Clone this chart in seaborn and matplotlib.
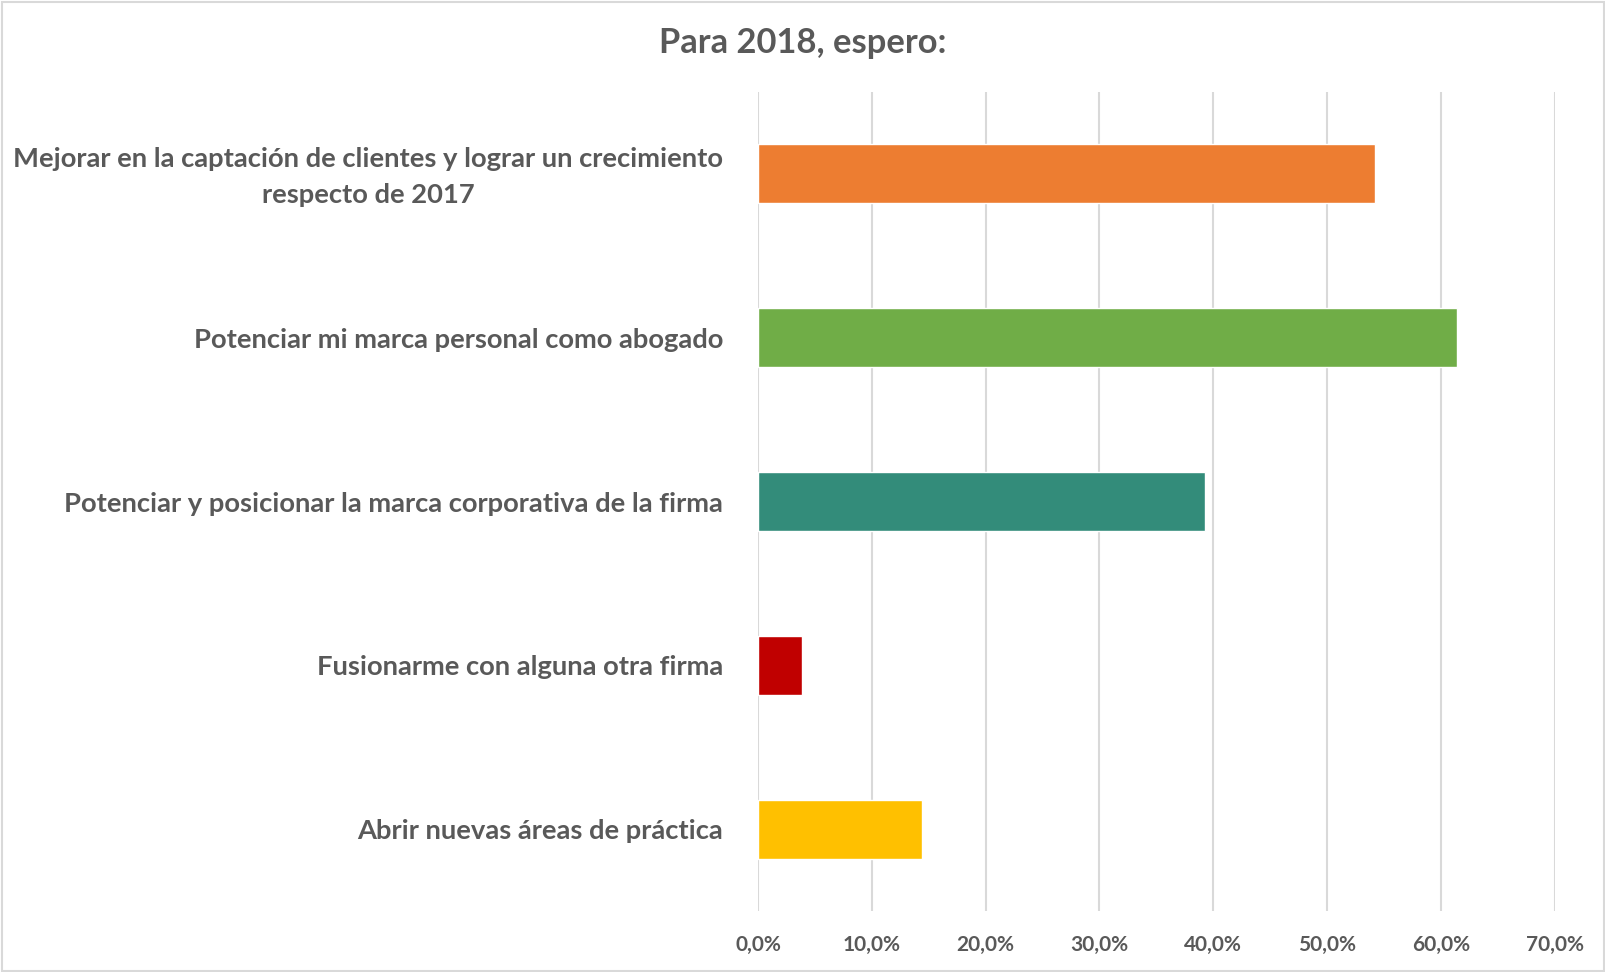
import matplotlib
matplotlib.use("Agg")
import matplotlib.pyplot as plt
import matplotlib.transforms as mtransforms
import seaborn as sns
import pandas as pd
from matplotlib.ticker import FuncFormatter

categories = [
    "Mejorar en la captación de clientes y lograr un crecimiento\nrespecto de 2017",
    "Potenciar mi marca personal como abogado",
    "Potenciar y posicionar la marca corporativa de la firma",
    "Fusionarme con alguna otra firma",
    "Abrir nuevas áreas de práctica",
]
values = [0.542, 0.614, 0.393, 0.039, 0.144]
colors = ["#ED7D31", "#70AD47", "#338C7A", "#C00000", "#FFC000"]
title = "Para 2018, espero:"
xticks = [0.0, 0.1, 0.2, 0.3, 0.4, 0.5, 0.6, 0.7]

sns.set_theme(style="white")
plt.rcParams["font.family"] = ["Lato", "DejaVu Sans"]

df = pd.DataFrame({"cat": categories, "val": values})

fig = plt.figure(figsize=(16.06, 9.72), dpi=100)
ax = fig.add_axes([0.472, 0.0628, 0.496, 0.8425])

sns.barplot(data=df, x="val", y="cat", hue="cat", palette=colors, legend=False,
            orient="h", width=0.36, ax=ax, saturation=1)

ax.set_xlim(0, 0.7)
ax.set_xticks(xticks)
ax.xaxis.set_major_formatter(FuncFormatter(lambda v, p: f"{v*100:.1f}%".replace(".", ",")))
ax.grid(axis="x", color="#D9D9D9", linewidth=1.5)
ax.set_axisbelow(True)
for s in ax.spines.values():
    s.set_visible(False)
ax.set_xlabel("")
ax.set_ylabel("")
ax.tick_params(axis="x", length=0, pad=17, labelsize=15, labelcolor="#595959")
ax.tick_params(axis="y", length=0, pad=25, labelsize=19.7, labelcolor="#595959")
for lbl in ax.get_xticklabels():
    lbl.set_fontweight("bold")
for i, lbl in enumerate(ax.get_yticklabels()):
    lbl.set_fontweight("bold")
    lbl.set_multialignment("center")
    lbl.set_linespacing(1.6)
    if "\n" in lbl.get_text():
        lbl.set_transform(lbl.get_transform() +
                          mtransforms.ScaledTranslation(0, 5 / 100, fig.dpi_scale_trans))

fig.text(0.5, 0.956, title, ha="center", va="center", fontsize=24.8,
         fontweight="bold", color="#595959")

border = plt.Rectangle((0.001, 0.001), 0.998, 0.997, transform=fig.transFigure,
                       fill=False, edgecolor="#D9D9D9", linewidth=1.5)
fig.patches.append(border)

fig.savefig("out.png", dpi=100, facecolor="white")
